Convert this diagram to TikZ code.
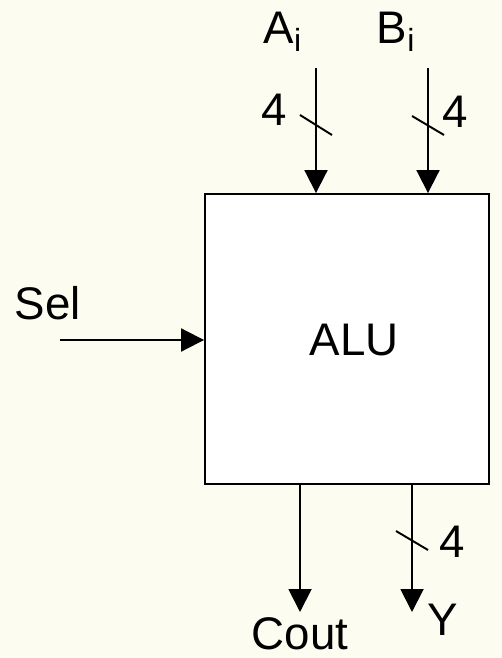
\documentclass[tikz,border=0pt]{standalone}
\usepackage{fontspec}
\setmainfont{Liberation Sans}
\usetikzlibrary{arrows.meta, positioning, calc}
\definecolor{bgcream}{RGB}{252,253,240}

\begin{document}
\begin{tikzpicture}[
  x=0.02cm, y=-0.02cm,
  font=\fontsize{26}{31}\selectfont,
  alubox/.style={draw, fill=white, line width=1.1pt, minimum width=5.68cm, minimum height=5.8cm, inner sep=0pt},
  sig/.style={line width=1.1pt, -{Triangle[length=0.46cm, width=0.46cm]}},
  bus/.style={line width=1.1pt},
  lbl/.style={inner sep=0pt},
]
% Background and frame
\fill[bgcream] (0,0) rectangle (502,658);
\useasboundingbox (0,0) rectangle (502,658);

% ALU block
\node[alubox] (alu) at (347,339) {};
\node[lbl] (alutext) at (354,340) {ALU};

% Inputs
\coordinate (ain) at (316,68);
\coordinate (bin) at (428,68);
\coordinate (selin) at (60,340);
\node[lbl] (alabel) at (283,32) {A\textsubscript{i}};
\node[lbl] (blabel) at (396,32) {B\textsubscript{i}};
\node[lbl] (sellabel) at (48,303) {Sel};

\draw[sig] (ain) -- (ain |- alu.north);
\draw[sig] (bin) -- (bin |- alu.north);
\draw[sig] (selin) -- (selin -| alu.west);

% Bus widths on inputs
\draw[bus] (300,115) -- (332,135);
\draw[bus] (412,116) -- (444,135);
\node[lbl] (awidth) at (274,110) {4};
\node[lbl] (bwidth) at (455,112) {4};

% Outputs
\coordinate (coutend) at (300,612);
\coordinate (yend) at (412,612);
\draw[sig] (coutend |- alu.south) -- (coutend);
\draw[sig] (yend |- alu.south) -- (yend);
\draw[bus] (396,531) -- (428,550);
\node[lbl] (ywidth) at (452,542) {4};
\node[lbl] (coutlabel) at (300,634) {Cout};
\node[lbl] (ylabel) at (443,620) {Y};
\end{tikzpicture}
\end{document}
